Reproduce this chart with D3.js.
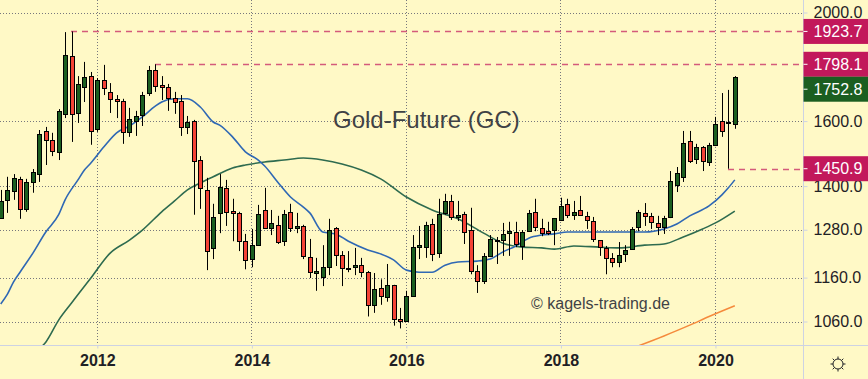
<!DOCTYPE html>
<html>
<head>
<meta charset="utf-8">
<script src="https://d3js.org/d3.v7.min.js"></script>
<style>
  html, body { margin: 0; padding: 0; background: #fff9c6; }
  svg { display: block; font-family: "Liberation Sans", Arial, sans-serif; }
</style>
</head>
<body>
<div id="chart"></div>
<script>
// monthly candles, first one is Oct 2010, last one Apr 2020
var open = [1311,1361,1386,1421,1336,1412,1435,1568,1539,1502,1624,1829,1627,1716,1755,1575,1741,1699,1675,1668,1565,1601,1620,1695,1777,1723,1716,1678,1668,1581,1601,1477,1389,1233,1325,1395,1330,1325,1250,1205,1240,1333,1285,1293,1250,1328,1285,1290,1210,1171,1161,1185,1285,1215,1183,1185,1190,1173,1097,1136,1115,1143,1065,1061,1117,1235,1235,1295,1220,1325,1358,1314,1322,1279,1176,1152,1213,1250,1253,1271,1274,1238,1276,1328,1285,1276,1279,1306,1350,1320,1333,1317,1303,1253,1233,1208,1198,1218,1230,1287,1325,1317,1298,1287,1314,1403,1427,1536,1480,1517,1471,1524,1601,1594,1591];
var high = [1389,1427,1435,1427,1421,1450,1571,1581,1562,1640,1921,1923.7,1755,1807,1770,1748,1796,1730,1688,1675,1644,1634,1699,1792,1798.1,1755,1727,1699,1688,1617,1604,1489,1424,1350,1435,1418,1364,1328,1269,1282,1347,1395,1333,1317,1333,1350,1325,1293,1256,1208,1240,1309,1287,1225,1225,1233,1208,1176,1171,1156,1193,1143,1090,1129,1266,1290,1301,1309,1364,1378,1375,1358,1328,1339,1190,1220,1266,1261,1298,1301,1301,1279,1333,1364,1309,1301,1311,1367,1364,1358,1372,1328,1314,1253,1238,1220,1248,1240,1287,1333,1352,1325,1317,1317,1444,1456,1568,1568,1527,1520,1530,1614,1695,1706,1755];
var low = [1309,1325,1361,1309,1328,1381,1412,1462,1489,1477,1610,1533,1594,1664,1524,1565,1688,1627,1610,1527,1549,1552,1584,1685,1699,1671,1634,1624,1552,1558,1320,1336,1178,1205,1271,1290,1250,1225,1180,1185,1240,1282,1266,1243,1238,1274,1271,1205,1159,1129,1140,1166,1188,1140,1173,1166,1161,1071,1079,1097,1104,1051,1045,1061,1115,1205,1208,1200,1208,1320,1306,1303,1243,1168,1124,1145,1210,1193,1213,1213,1235,1203,1274,1276,1263,1266,1240,1303,1311,1306,1317,1282,1248,1213,1168,1185,1185,1198,1230,1276,1290,1282,1266,1269,1311,1383,1412,1468,1465,1444,1459,1520,1549,1450.9,1575];
var close = [1358,1389,1424,1336,1412,1441,1558,1539,1505,1634,1833,1624,1727,1752,1568,1741,1713,1675,1668,1565,1607,1617,1688,1777,1720,1716,1678,1664,1581,1597,1474,1395,1225,1314,1398,1328,1325,1250,1203,1240,1322,1285,1298,1248,1322,1285,1290,1213,1173,1176,1185,1279,1215,1183,1180,1190,1173,1097,1133,1117,1143,1065,1061,1117,1235,1240,1293,1218,1322,1358,1314,1320,1274,1176,1152,1213,1256,1253,1269,1276,1243,1274,1325,1287,1271,1271,1311,1344,1320,1328,1320,1306,1256,1235,1208,1198,1215,1228,1282,1328,1317,1301,1287,1311,1415,1438,1530,1474,1517,1474,1524,1591,1568,1597,1752.8];

var blueIdx = [0,1,2,3,5,7,9,10,12,13,14,16,18,20,22,24,25,27,29,31,33,34,36,38,40,41,43,45,47,48,50,52,54,57,59,61,63,65,67,69,71,74,76,78,80,82,84,86,88,92,96,100,103,105,107,110,112,113,114];
var blueVal = [1099,1120,1150,1173,1220,1274,1320,1361,1418,1447,1468,1517,1562,1584,1614,1650,1664,1675,1675,1647,1597,1587,1549,1502,1477,1459,1412,1369,1341,1325,1274,1269,1250,1228,1218,1203,1178,1173,1173,1190,1198,1200,1205,1223,1238,1258,1266,1269,1274,1274,1274,1274,1282,1295,1317,1344,1375,1395,1418];
var greenIdx = [6,7,9,11,14,17,20,22,25,27,29,31,33,36,38,41,44,47,50,53,56,59,63,67,71,75,78,81,84,86,89,93,96,100,103,106,109,111,114];
var greenVal = [1002,1016,1063,1101,1159,1220,1253,1279,1328,1358,1389,1409,1427,1453,1462,1471,1477,1483,1477,1465,1447,1421,1369,1333,1309,1271,1245,1235,1233,1230,1238,1235,1233,1240,1243,1261,1282,1298,1330];
var orangeIdx = [99,103,107,110,114];
var orangeVal = [1008,1029,1052,1071,1095];

var yTicks = [2000,1600,1400,1280,1160,1060];
var yearIdx = [15,39,63,87,111];
var yearLabels = ["2012","2014","2016","2018","2020"];

// horizontal levels: value, candle it starts from
var levelVal = [1923.7,1798.1,1450.9];
var levelIdx = [11,24,113];

var width = 868, height = 379,
    plotRight = 803, plotBottom = 345.5;

var bg = "#fff9c6", upCol = "#1b5e20", downCol = "#f44336", levelCol = "#c2185b",
    axisCol = "#cdd2e3", gridCol = "#77777d", textCol = "#1f2125";

var x = d3.scaleLinear().domain([0, 114]).range([0.7, 734.8]);
var y = d3.scaleLog().domain([2000, 1060]).range([12.5, 321.5]);

var svg = d3.select("#chart").append("svg")
    .attr("width", width)
    .attr("height", height);

svg.append("rect")
    .attr("width", width).attr("height", height)
    .attr("fill", bg);

svg.append("clipPath").attr("id", "plot")
  .append("rect")
    .attr("width", plotRight).attr("height", plotBottom);

var plot = svg.append("g").attr("clip-path", "url(#plot)");

// grid
plot.selectAll(".hgrid")
    .data(yTicks)
    .enter().append("line")
    .attr("class", "hgrid")
    .attr("x1", 0).attr("x2", plotRight)
    .attr("y1", function(d) { return Math.round(y(d)) + 0.5; })
    .attr("y2", function(d) { return Math.round(y(d)) + 0.5; })
    .attr("stroke", gridCol)
    .attr("stroke-dasharray", "1,2");

plot.selectAll(".vgrid")
    .data(yearIdx)
    .enter().append("line")
    .attr("class", "vgrid")
    .attr("x1", function(d) { return Math.floor(x(d)) + 0.5; })
    .attr("x2", function(d) { return Math.floor(x(d)) + 0.5; })
    .attr("y1", 0).attr("y2", plotBottom)
    .attr("stroke", gridCol)
    .attr("stroke-dasharray", "1,2");

// title and watermark
plot.append("text")
    .attr("x", 333).attr("y", 128)
    .attr("font-size", 24)
    .attr("fill", "#3f4245")
    .text("Gold-Future (GC)");

plot.append("text")
    .attr("x", 531).attr("y", 309)
    .attr("font-size", 16)
    .attr("fill", "#3f4245")
    .text("© kagels-trading.de");

// dashed levels
plot.selectAll(".level")
    .data(levelVal)
    .enter().append("line")
    .attr("class", "level")
    .attr("x1", function(d, i) { return Math.floor(x(levelIdx[i])); })
    .attr("x2", plotRight)
    .attr("y1", function(d) { return Math.round(y(d)) + 0.5; })
    .attr("y2", function(d) { return Math.round(y(d)) + 0.5; })
    .attr("stroke", levelCol)
    .attr("stroke-opacity", 0.7)
    .attr("stroke-width", 1.5)
    .attr("stroke-dasharray", "6,5");

// moving averages
function maLine(idx, vals, col, w) {
  var line = d3.line()
      .x(function(d, i) { return x(idx[i]); })
      .y(function(d) { return y(d); })
      .curve(d3.curveMonotoneX);
  plot.append("path")
      .attr("d", line(vals))
      .attr("fill", "none")
      .attr("stroke", col)
      .attr("stroke-width", w);
}
maLine(greenIdx, greenVal, "#2e6b4f", 1.6);
maLine(blueIdx, blueVal, "#2f68b4", 1.6);
maLine(orangeIdx, orangeVal, "#f58a3c", 1.5);

// candles
var candle = plot.selectAll(".candle")
    .data(d3.range(open.length))
    .enter().append("g")
    .attr("class", "candle")
    .attr("transform", function(i) { return "translate(" + (Math.round(x(i)) + 0.5) + ",0)"; });

candle.append("line")
    .attr("y1", function(i) { return y(high[i]); })
    .attr("y2", function(i) { return y(low[i]); })
    .attr("stroke", "#000")
    .attr("stroke-width", 1);

candle.append("rect")
    .attr("x", -2)
    .attr("width", 4)
    .attr("y", function(i) { return Math.round(y(Math.max(open[i], close[i]))) + 0.5; })
    .attr("height", function(i) { return Math.max(1, Math.round(Math.abs(y(open[i]) - y(close[i])))); })
    .attr("fill", function(i) { return close[i] >= open[i] ? upCol : downCol; })
    .attr("stroke", "#000")
    .attr("stroke-width", 1);

// axes
var yAxis = d3.axisRight(y)
    .tickValues(yTicks)
    .tickFormat(d3.format(".1f"))
    .tickSize(4)
    .tickPadding(6);

var yg = svg.append("g")
    .attr("transform", "translate(" + (plotRight + 0.5) + ",0)")
    .call(yAxis);
yg.selectAll("text").attr("font-size", 16).attr("fill", textCol).attr("font-family", "Liberation Sans");
yg.selectAll("line").attr("stroke", axisCol);
yg.select(".domain").remove();

var xAxis = d3.axisBottom(x)
    .tickValues(yearIdx)
    .tickFormat(function(d, i) { return yearLabels[i]; })
    .tickSize(3)
    .tickPadding(6);

var xg = svg.append("g")
    .attr("transform", "translate(0," + plotBottom + ")")
    .call(xAxis);
xg.selectAll("text").attr("font-size", 16).attr("font-weight", "bold").attr("fill", textCol).attr("font-family", "Liberation Sans");
xg.selectAll("line").attr("stroke", axisCol);
xg.select(".domain").remove();

svg.append("line")
    .attr("x1", 0).attr("x2", width)
    .attr("y1", plotBottom).attr("y2", plotBottom)
    .attr("stroke", axisCol);
svg.append("line")
    .attr("x1", plotRight + 0.5).attr("x2", plotRight + 0.5)
    .attr("y1", 0).attr("y2", height)
    .attr("stroke", axisCol);

// price labels
var tagVal = [1923.7, 1798.1, 1752.8, 1450.9];
var tagCol = [levelCol, levelCol, upCol, levelCol];
var tagShift = [0, 0, 12.5, 0];   // last price tag is pushed below the 1798.1 one

var tag = svg.selectAll(".tag")
    .data(tagVal)
    .enter().append("g")
    .attr("class", "tag")
    .attr("transform", function(d, i) { return "translate(" + (plotRight + 0.5) + "," + (y(d) + tagShift[i]) + ")"; });

tag.append("rect")
    .attr("x", 0).attr("y", -12.5)
    .attr("width", width - plotRight).attr("height", 25)
    .attr("fill", function(d, i) { return tagCol[i]; });

tag.append("line")
    .attr("x1", 0).attr("x2", 4)
    .attr("stroke", "#fff");

tag.append("text")
    .attr("x", 10)
    .attr("dy", "0.36em")
    .attr("font-size", 16)
    .attr("fill", "#fff")
    .text(function(d) { return d.toFixed(1); });

// sun button
var sun = svg.append("g").attr("transform", "translate(838,364)");
sun.append("circle")
    .attr("r", 5)
    .attr("fill", "none")
    .attr("stroke", textCol);
sun.selectAll("line")
    .data(d3.range(8))
    .enter().append("line")
    .attr("x1", function(d) { return 5 * Math.cos(d * Math.PI / 4); })
    .attr("y1", function(d) { return 5 * Math.sin(d * Math.PI / 4); })
    .attr("x2", function(d) { return 7.5 * Math.cos(d * Math.PI / 4); })
    .attr("y2", function(d) { return 7.5 * Math.sin(d * Math.PI / 4); })
    .attr("stroke", textCol);
</script>
</body>
</html>
